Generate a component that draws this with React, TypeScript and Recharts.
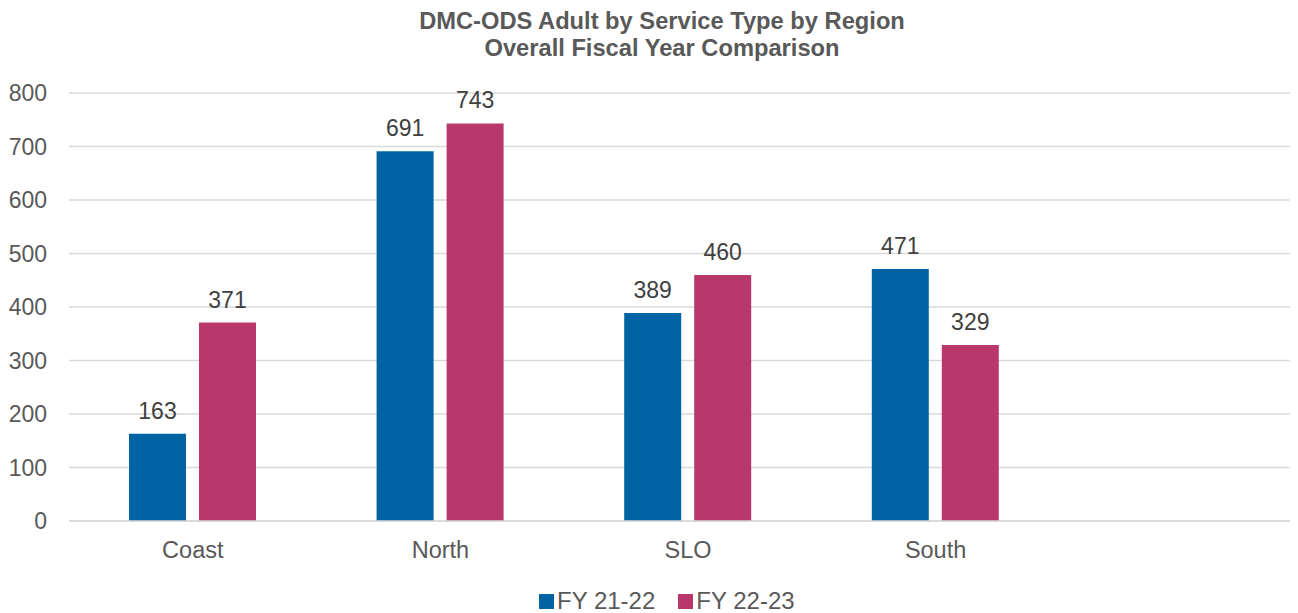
import React from "react";
import { BarChart, Bar, XAxis, YAxis, CartesianGrid, LabelList } from "recharts";

const categories = ["Coast", "North", "SLO", "South", ""];
const fy2122: (number | null)[] = [163, 691, 389, 471, null];
const fy2223: (number | null)[] = [371, 743, 460, 329, null];
const yTicks = [0, 100, 200, 300, 400, 500, 600, 700, 800];
const seriesNames = ["FY 21-22", "FY 22-23"];
const seriesColors = ["#0064A4", "#B8386B"];
const titleLines = ["DMC-ODS Adult by Service Type by Region", "Overall Fiscal Year Comparison"];

const data = categories.map((c, i) => ({ name: c, a: fy2122[i], b: fy2223[i] }));

const FONT = "Arial, 'Liberation Sans', sans-serif";

export default function App() {
  return (
    <div style={{ position: "relative", width: 1290, height: 605, overflow: "hidden", fontFamily: FONT }}>
      <div
        style={{
          position: "absolute",
          left: 0,
          top: 0,
          width: 1308,
          textAlign: "center",
          fontWeight: "bold",
          fontSize: 23.7,
          lineHeight: "27px",
          color: "#595959",
        }}
      >
        {titleLines.map((t) => (
          <div key={t}>{t}</div>
        ))}
      </div>
      <BarChart
        width={1306}
        height={605}
        data={data}
        margin={{ top: 85, right: 7, bottom: 52, left: 0 }}
        barSize={57}
        barGap={13}
        style={{ fontFamily: FONT }}
      >
        <CartesianGrid vertical={false} stroke="#D9D9D9" strokeWidth={1.5} />
        <XAxis
          dataKey="name"
          height={40}
          axisLine={{ stroke: "#D9D9D9", strokeWidth: 1.5 }}
          tickLine={false}
          tickSize={0}
          tickMargin={20}
          interval={0}
          tick={{ fontSize: 23.5, fill: "#595959" }}
        />
        <YAxis
          width={61}
          domain={[0, 800]}
          ticks={yTicks}
          axisLine={false}
          tickLine={false}
          tickSize={0}
          tickMargin={22}
          tick={{ fontSize: 23, fill: "#595959" }}
        />
        <Bar dataKey="a" name={seriesNames[0]} fill={seriesColors[0]} isAnimationActive={false}>
          <LabelList dataKey="a" position="top" offset={15} style={{ fontSize: 23, fill: "#404040" }} />
        </Bar>
        <Bar dataKey="b" name={seriesNames[1]} fill={seriesColors[1]} isAnimationActive={false}>
          <LabelList dataKey="b" position="top" offset={15} style={{ fontSize: 23, fill: "#404040" }} />
        </Bar>
      </BarChart>
      <div
        style={{
          position: "absolute",
          left: 531,
          top: 581,
          display: "flex",
          alignItems: "center",
          fontSize: 24,
          lineHeight: "24px",
          color: "#595959",
        }}
      >
        {seriesNames.map((n, i) => (
          <div key={n} style={{ display: "flex", alignItems: "center", marginRight: i === 0 ? 23 : 0 }}>
            <div style={{ width: 15, height: 15, background: seriesColors[i], marginRight: 3 }} />
            <span>{n}</span>
          </div>
        ))}
      </div>
    </div>
  );
}
